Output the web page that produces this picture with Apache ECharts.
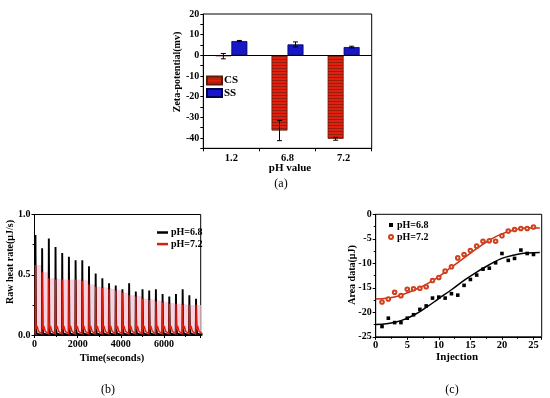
<!DOCTYPE html>
<html><head><meta charset="utf-8">
<script src="https://cdn.jsdelivr.net/npm/echarts@6/dist/echarts.min.js"></script>
<style>html,body{margin:0;padding:0;background:#fff}#c{width:550px;height:398px}</style>
</head><body><div id="c"></div>
<script>
// ---------- Panel (a) data ----------
const phCategories = ['1.2', '6.8', '7.2'];
const csZeta = [-0.4, -36.4, -40.4];
const csErr = [1.3, 4.9, 0.7];
const ssZeta = [6.9, 5.3, 4.0];
const ssErr = [0.3, 1.2, 0.4];

// ---------- Panel (b) data ----------
const injectionTimes = [40, 350, 660, 970, 1280, 1590, 1900, 2210, 2520, 2830, 3140, 3450, 3760,
  4070, 4380, 4690, 5000, 5310, 5620, 5930, 6240, 6550, 6860, 7170, 7480];
const peak68 = [0.83, 0.72, 0.80, 0.73, 0.68, 0.65, 0.62, 0.62, 0.57, 0.51, 0.47, 0.43, 0.41,
  0.38, 0.43, 0.36, 0.38, 0.37, 0.38, 0.34, 0.32, 0.34, 0.38, 0.33, 0.30];
const peak72 = [0.58, 0.52, 0.47, 0.46, 0.46, 0.46, 0.46, 0.45, 0.42, 0.40, 0.39, 0.38, 0.37,
  0.35, 0.33, 0.32, 0.30, 0.29, 0.28, 0.27, 0.26, 0.26, 0.25, 0.25, 0.25];

// ---------- Panel (c) data ----------
const injections = [1,2,3,4,5,6,7,8,9,10,11,12,13,14,15,16,17,18,19,20,21,22,23,24,25];
const area68 = [-22.9, -21.2, -22.1, -22.1, -21.2, -20.5, -19.4, -18.7, -17.1, -16.9, -17.1, -16.2, -16.5,
  -14.5, -13.3, -12.4, -11.2, -11.0, -9.9, -8.0, -9.4, -9.0, -7.3, -8.0, -8.2];
const area72 = [-17.9, -17.3, -15.9, -16.6, -15.3, -15.2, -15.1, -14.8, -13.5, -12.9, -11.6, -10.7, -8.9,
  -8.2, -7.4, -6.5, -5.5, -5.4, -5.5, -4.4, -3.4, -3.1, -2.9, -2.9, -2.6];
const fitX = [0, 2, 4, 6, 8, 10, 12, 14, 16, 18, 20, 22, 24, 26];
const fit68 = [-22.5, -22.3, -21.7, -20.6, -19.0, -17.2, -15.4, -13.5, -11.8, -10.3, -9.0, -8.3, -7.9, -7.8];
const fit72 = [-17.3, -17.1, -16.5, -15.5, -14.3, -12.7, -10.8, -8.9, -7.0, -5.3, -4.0, -3.2, -2.8, -2.8];

// ---------- styling ----------
const SERIF = 'Liberation Serif, Times New Roman, serif';
const tickFont = {fontFamily: SERIF, fontWeight: 'bold', fontSize: 10, color: '#000'};

const cv = document.createElement('canvas');
cv.width = 4; cv.height = 3;
const cx = cv.getContext('2d');
cx.fillStyle = '#e2200f'; cx.fillRect(0, 0, 4, 3);
cx.fillStyle = '#93200e'; cx.fillRect(0, 2, 4, 1);
const csPattern = {image: cv, repeat: 'repeat'};

function errRender(offset) {
  return function (params, api) {
    const i = api.value(0), v = api.value(1), e = api.value(2);
    const top = api.coord([i, v + e]);
    const bot = api.coord([i, v - e]);
    const x = top[0] + offset, cap = 2.5;
    const st = {stroke: '#000', lineWidth: 1};
    return {type: 'group', children: [
      {type: 'line', shape: {x1: x, y1: top[1], x2: x, y2: bot[1]}, style: st},
      {type: 'line', shape: {x1: x - cap, y1: top[1], x2: x + cap, y2: top[1]}, style: st},
      {type: 'line', shape: {x1: x - cap, y1: bot[1], x2: x + cap, y2: bot[1]}, style: st}
    ]};
  };
}

function spikeShape68(t, p) { return [[t - 8, 0], [t + 4, p], [t + 26, 0.05], [t + 60, 0.01], [t + 300, 0]]; }
function spikeShape72(t, p) { return [[t - 6, 0.005], [t + 4, p], [t + 22, 0.1], [t + 45, 0.05], [t + 80, 0.075], [t + 150, 0.03], [t + 304, 0.008]]; }
function spikeRender(shapeFn, color, width) {
  return function (params, api) {
    const t = api.value(0), p = api.value(1);
    const pts = shapeFn(t, p).map(q => api.coord(q));
    return {type: 'polyline', shape: {points: pts}, style: {stroke: color, lineWidth: width, fill: null, lineJoin: 'miter', miterLimit: 3}};
  };
}

const bMax = 7700;
const pinkData = injectionTimes.map((t, i) => [t, peak72[i]]).concat([[bMax, peak72[peak72.length - 1]]]);

function valAxis(grid, min, max, interval, extra) {
  return Object.assign({
    type: 'value', gridIndex: grid, min: min, max: max, interval: interval,
    axisLine: {show: true, onZero: false, lineStyle: {color: '#000', width: 1}},
    axisTick: {show: true, length: 3, lineStyle: {color: '#000'}},
    minorTick: {show: true, splitNumber: 2, length: 2, lineStyle: {color: '#000'}},
    splitLine: {show: false},
    axisLabel: Object.assign({margin: 4}, tickFont)
  }, extra || {});
}

const chart = echarts.init(document.getElementById('c'), null, {renderer: 'canvas'});
const option = {
  backgroundColor: '#fff',
  animation: false,
  grid: [
    {left: 203.3, top: 14, width: 168.4, height: 134.3, show: true, borderColor: '#000', borderWidth: 1, containLabel: false},
    {left: 34.5, top: 214.5, width: 166.2, height: 120.5, show: true, borderColor: '#000', borderWidth: 1, containLabel: false},
    {left: 375.7, top: 214.3, width: 166, height: 122.5, show: true, borderColor: '#000', borderWidth: 1, containLabel: false}
  ],
  xAxis: [
    {type: 'category', gridIndex: 0, data: phCategories,
      axisLine: {onZero: false, lineStyle: {color: '#000'}},
      axisTick: {show: true, length: 3, lineStyle: {color: '#000'}},
      axisLabel: Object.assign({margin: 4}, tickFont, {fontSize: 10.5})},
    valAxis(1, 0, bMax, 2000, {axisLabel: Object.assign({margin: 4, showMaxLabel: false, formatter: v => String(v)}, tickFont)}),
    valAxis(2, 0, 26.3, 5, {axisLabel: Object.assign({margin: 3, showMaxLabel: false, formatter: v => String(v)}, tickFont, {fontSize: 10.5})})
  ],
  yAxis: [
    valAxis(0, -45, 20, 5, {minorTick: {show: false},
      axisLabel: Object.assign({margin: 4, formatter: v => (v % 10 === 0 ? String(v) : '')}, tickFont)}),
    valAxis(1, 0, 1, 0.5, {axisLabel: Object.assign({margin: 4, formatter: v => v.toFixed(1)}, tickFont)}),
    valAxis(2, -25, 0, 5, {axisLabel: Object.assign({margin: 4, formatter: v => String(v)}, tickFont)})
  ],
  legend: [
    {data: [{name: 'CS', icon: 'rect'}, {name: 'SS', icon: 'rect'}], orient: 'vertical', left: 206, top: 74.5, padding: 0, itemGap: 0.6,
      itemWidth: 15, itemHeight: 8, selectedMode: false,
      textStyle: {fontFamily: SERIF, fontWeight: 'bold', fontSize: 11, color: '#000', lineHeight: 12, padding: [0, 0, 0, -3]}},
    {data: [{name: 'pH=6.8', icon: 'rect'}, {name: 'pH=7.2', icon: 'rect'}], orient: 'vertical', left: 157, top: 227,
      padding: 0, itemGap: 0.6, itemWidth: 11, itemHeight: 2.5, selectedMode: false,
      textStyle: {fontFamily: SERIF, fontWeight: 'bold', fontSize: 10, color: '#000', lineHeight: 11, padding: [0, 0, 0, -2]}},
    {data: [{name: 'pH=6.8 ', icon: 'rect'}, {name: 'pH=7.2 ', icon: 'emptyCircle'}], orient: 'vertical', left: 388, top: 219.5,
      padding: 0, itemGap: 1, itemWidth: 4, itemHeight: 4, selectedMode: false,
      textStyle: {fontFamily: SERIF, fontWeight: 'bold', fontSize: 10, color: '#000', lineHeight: 11, padding: [0, 0, 0, -1]}}
  ],
  series: [
    // ---- (a)
    {type: 'bar', name: 'CS', xAxisIndex: 0, yAxisIndex: 0, data: csZeta, barWidth: 16, barGap: '0%',
      itemStyle: {color: csPattern, borderColor: '#5a1a08', borderWidth: 0.8}},
    {type: 'bar', name: 'SS', xAxisIndex: 0, yAxisIndex: 0, data: ssZeta, barWidth: 16, barGap: '0%',
      itemStyle: {color: '#1717c9', borderColor: '#000050', borderWidth: 0.8},
      markLine: {silent: true, symbol: 'none', label: {show: false}, lineStyle: {color: '#000', width: 1, type: 'solid'},
        data: [{yAxis: 0}]}},
    {type: 'custom', xAxisIndex: 0, yAxisIndex: 0, z: 5, data: csZeta.map((v, i) => [i, v, csErr[i]]),
      renderItem: errRender(-8)},
    {type: 'custom', xAxisIndex: 0, yAxisIndex: 0, z: 5, data: ssZeta.map((v, i) => [i, v, ssErr[i]]),
      renderItem: errRender(8)},
    // ---- (b)
    {type: 'line', xAxisIndex: 1, yAxisIndex: 1, step: 'end', data: pinkData, symbol: 'none', silent: true, z: 1,
      lineStyle: {width: 0, color: '#fbd0de'}, areaStyle: {color: '#fbd3e0', opacity: 1}},
    {type: 'custom', name: 'pH=6.8', xAxisIndex: 1, yAxisIndex: 1, z: 2, itemStyle: {color: '#000'},
      data: injectionTimes.map((t, i) => [t, peak68[i]]), renderItem: spikeRender(spikeShape68, '#000', 1.9)},
    {type: 'custom', name: 'pH=7.2', xAxisIndex: 1, yAxisIndex: 1, z: 3, itemStyle: {color: '#d8200f'},
      data: injectionTimes.map((t, i) => [t, peak72[i]]), renderItem: spikeRender(spikeShape72, '#d8200f', 1.4)},
    // ---- (c)
    {type: 'line', xAxisIndex: 2, yAxisIndex: 2, smooth: true, showSymbol: false, symbol: 'none', silent: true,
      data: fitX.map((x, i) => [x, fit68[i]]), lineStyle: {color: '#000', width: 1.5}, z: 2},
    {type: 'line', xAxisIndex: 2, yAxisIndex: 2, smooth: true, showSymbol: false, symbol: 'none', silent: true,
      data: fitX.map((x, i) => [x, fit72[i]]), lineStyle: {color: '#c8321a', width: 1.5}, z: 2},
    {type: 'scatter', name: 'pH=6.8 ', xAxisIndex: 2, yAxisIndex: 2, symbol: 'rect', symbolSize: 3.6, z: 3,
      data: injections.map((x, i) => [x, area68[i]]), itemStyle: {color: '#000', opacity: 1}},
    {type: 'scatter', name: 'pH=7.2 ', xAxisIndex: 2, yAxisIndex: 2, symbol: 'emptyCircle', symbolSize: 3.6, z: 3,
      data: injections.map((x, i) => [x, area72[i]]), itemStyle: {color: '#d0401a', borderWidth: 0.8, opacity: 1}}
  ],
  graphic: [
    {type: 'text', x: 177, y: 72, rotation: Math.PI / 2, style: {text: 'Zeta-potential(mv)', fill: '#000',
      font: 'bold 10px ' + SERIF, align: 'center', verticalAlign: 'middle'}},
    {type: 'text', x: 290, y: 168, style: {text: 'pH value', fill: '#000', font: 'bold 11px ' + SERIF, align: 'center', verticalAlign: 'middle'}},
    {type: 'text', x: 281, y: 184, style: {text: '(a)', fill: '#000', font: '12px ' + SERIF, align: 'center', verticalAlign: 'middle'}},
    {type: 'text', x: 10, y: 262, rotation: Math.PI / 2, style: {text: 'Raw heat rate(μJ/s)', fill: '#000',
      font: 'bold 10px ' + SERIF, align: 'center', verticalAlign: 'middle'}},
    {type: 'text', x: 112, y: 358, style: {text: 'Time(seconds)', fill: '#000', font: 'bold 10.5px ' + SERIF, align: 'center', verticalAlign: 'middle'}},
    {type: 'text', x: 108, y: 390, style: {text: '(b)', fill: '#000', font: '12px ' + SERIF, align: 'center', verticalAlign: 'middle'}},
    {type: 'text', x: 352, y: 275, rotation: Math.PI / 2, style: {text: 'Area data(μJ)', fill: '#000',
      font: 'bold 10px ' + SERIF, align: 'center', verticalAlign: 'middle'}},
    {type: 'text', x: 457, y: 357, style: {text: 'Injection', fill: '#000', font: 'bold 11px ' + SERIF, align: 'center', verticalAlign: 'middle'}},
    {type: 'text', x: 452, y: 390, style: {text: '(c)', fill: '#000', font: '12px ' + SERIF, align: 'center', verticalAlign: 'middle'}}
  ]
};
chart.setOption(option);
</script></body></html>
